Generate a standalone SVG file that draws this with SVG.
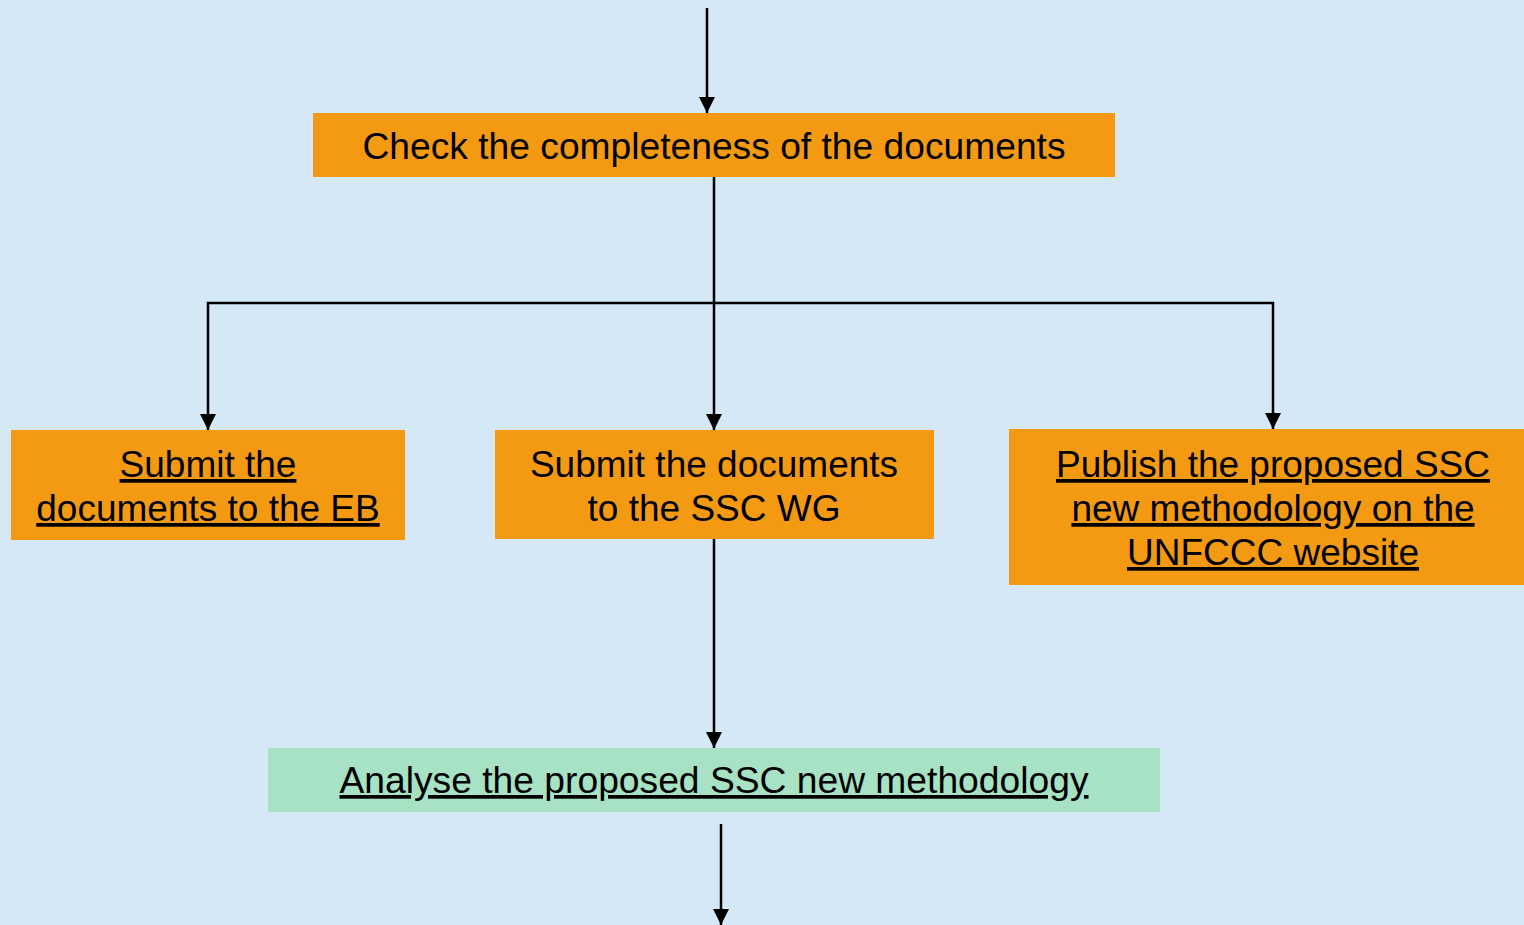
<svg xmlns="http://www.w3.org/2000/svg" width="1524" height="925" viewBox="0 0 1524 925">
<style>
.t{font-family:"Liberation Sans",Arial,sans-serif;font-size:37px;fill:#000;text-anchor:middle}
.u{text-decoration:underline}
.o{fill:#F39A12}
.g{fill:#A6E2C3}
.c{fill:none;stroke:#000;stroke-width:2.5}
</style>
<defs>
<marker id="a" markerWidth="16" markerHeight="16" refX="16" refY="8" orient="auto" markerUnits="userSpaceOnUse" viewBox="0 0 16 16">
<path d="M0,0 L16,8 L0,16 Z" fill="#000"/>
</marker>
</defs>
<rect width="1524" height="925" fill="#D5E8F6"/>
<g id="connectors">
<line class="c" x1="707" y1="8" x2="707" y2="113" marker-end="url(#a)"/>
<line class="c" x1="714" y1="177" x2="714" y2="430" marker-end="url(#a)"/>
<polyline class="c" points="714,303 208,303 208,430" marker-end="url(#a)"/>
<polyline class="c" points="714,303 1273,303 1273,429" marker-end="url(#a)"/>
<line class="c" x1="714" y1="539" x2="714" y2="748" marker-end="url(#a)"/>
<line class="c" x1="721" y1="824" x2="721" y2="925" marker-end="url(#a)"/>
</g>
<g id="check">
<rect class="o" x="313" y="113" width="802" height="64"/>
<text class="t" x="714" y="159" textLength="703" lengthAdjust="spacingAndGlyphs">Check the completeness of the documents</text>
</g>
<g id="eb">
<rect class="o" x="11" y="430" width="394" height="110"/>
<text class="t u" x="208" y="477">Submit the</text>
<text class="t u" x="208" y="521">documents to the EB</text>
</g>
<g id="ssc">
<rect class="o" x="495" y="430" width="439" height="109"/>
<text class="t" x="714" y="477">Submit the documents</text>
<text class="t" x="714" y="521">to the SSC WG</text>
</g>
<g id="publish">
<rect class="o" x="1009" y="429" width="515" height="156"/>
<text class="t u" x="1273" y="477">Publish the proposed SSC</text>
<text class="t u" x="1273" y="521">new methodology on the</text>
<text class="t u" x="1273" y="565">UNFCCC website</text>
</g>
<g id="analyse">
<rect class="g" x="268" y="748" width="892" height="64"/>
<text class="t u" x="714" y="793" textLength="749" lengthAdjust="spacingAndGlyphs">Analyse the proposed SSC new methodology</text>
</g>
</svg>
